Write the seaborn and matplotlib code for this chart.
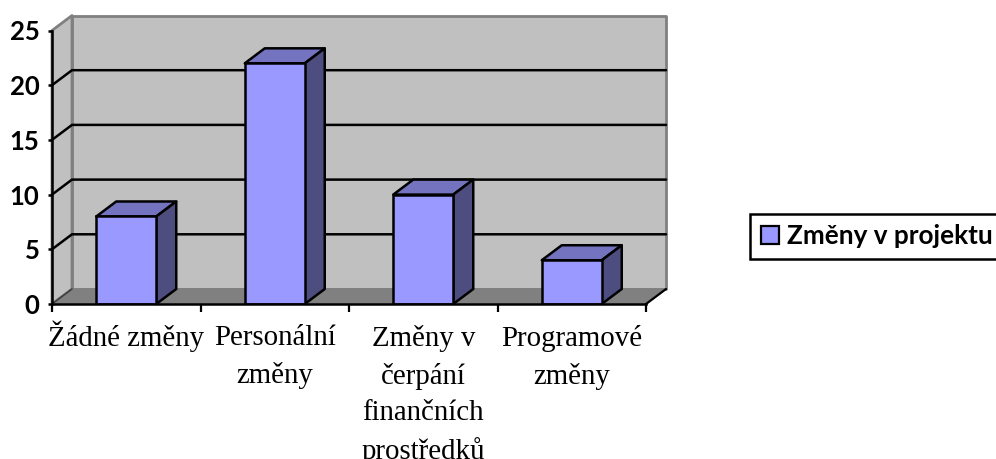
import matplotlib
matplotlib.use("Agg")
import matplotlib.pyplot as plt
from matplotlib.patches import Polygon, Patch
from matplotlib.transforms import Affine2D
import pandas as pd
import seaborn as sns

categories = ["Žádné změny", "Personální\nzměny", "Změny v\nčerpání\nfinančních\nprostředků", "Programové\nzměny"]
values = [8, 22, 10, 4]
series_name = "Změny v projektu"
y_ticks = [0, 5, 10, 15, 20, 25]

sns.set_theme(style="white")
W, H = 996, 459
fig = plt.figure(figsize=(W / 100, H / 100), dpi=100)
L, R, T, B = 52, 646, 30.5, 304
ax = fig.add_axes([L / W, 1 - B / H, (R - L) / W, (B - T) / H])
df = pd.DataFrame({"cat": categories, "val": values})
sns.barplot(data=df, x="cat", y="val", color="#9999FF", saturation=1, width=0.404,
            edgecolor="black", linewidth=1.8, ax=ax, zorder=4)
ax.set_xlim(-0.5, 3.5)
ax.set_ylim(0, 25)

# depth of the pseudo-3D box, in data units
dx = 20 / ((R - L) / 4)
dy = 15 / ((B - T) / 25)
x0, x1 = -0.5, 3.5
y0, y1 = 0, 25

def poly(pts, fc, ec="none", lw=0, z=1):
    ax.add_patch(Polygon(pts, closed=True, facecolor=fc, edgecolor=ec, linewidth=lw,
                         zorder=z, clip_on=False, joinstyle="round"))

gray = "#808080"
poly([(x0 + dx, y0 + dy), (x1 + dx, y0 + dy), (x1 + dx, y1 + dy), (x0 + dx, y1 + dy)], "#C0C0C0", gray, 2.0, 0.5)
poly([(x0, y0), (x0 + dx, y0 + dy), (x0 + dx, y1 + dy), (x0, y1)], "#C0C0C0", gray, 2.0, 0.5)
poly([(x0, y0), (x1, y0), (x1 + dx, y0 + dy), (x0 + dx, y0 + dy)], gray, gray, 1.0, 0.7)

for t in y_ticks[1:-1]:
    ax.plot([x0, x0 + dx, x1 + dx], [t, t + dy, t + dy], color="black", lw=1.8,
            zorder=1, clip_on=False, solid_joinstyle="miter")
ax.plot([x1, x1 + dx], [y0, y0 + dy], color="black", lw=1.6, zorder=2, clip_on=False)
ax.plot([x0, x0 + dx], [y0, y0 + dy], color="#404040", lw=1.2, zorder=2, clip_on=False)

# depth faces derived from the bars that seaborn drew
for bar in list(ax.patches):
    if not isinstance(bar, matplotlib.patches.Rectangle):
        continue
    a, w, h = bar.get_x(), bar.get_width(), bar.get_height()
    b = a + w
    poly([(a, h), (b, h), (b + dx, h + dy), (a + dx, h + dy)], "#7373BF", "black", 1.8, 3)
    poly([(b, 0), (b + dx, dy), (b + dx, h + dy), (b, h)], "#4D4D80", "black", 1.8, 3)

for side in ("top", "right"):
    ax.spines[side].set_visible(False)
for side in ("left", "bottom"):
    ax.spines[side].set_visible(True)
    ax.spines[side].set_color("black")
    ax.spines[side].set_linewidth(1.8)
    ax.spines[side].set_zorder(5)
ax.patch.set_alpha(0)

ax.set_xlabel("")
ax.set_ylabel("")
ax.set_yticks(y_ticks)
ax.set_yticklabels([str(t) for t in y_ticks], family="Lato", fontweight="bold", fontsize=18.5, color="black")
ax.tick_params(axis="y", left=True, length=3, width=1.8, color="black", pad=6)
ax.set_xticks(range(len(categories)))
ax.set_xticklabels(categories, family="Liberation Serif", fontsize=20.8, color="black", linespacing=1.5)
ax.set_xticks([-0.5, 0.5, 1.5, 2.5, 3.5], minor=True)
ax.tick_params(axis="x", which="major", bottom=False, length=0, pad=15.3)
ax.tick_params(axis="x", which="minor", bottom=True, length=6, width=1.6, color="black")
# the caron on the first label makes its line box taller; keep the baselines level
first = ax.get_xticklabels()[0]
first.set_transform(first.get_transform() + Affine2D().translate(0, 5))

leg = fig.legend(handles=[Patch(facecolor="#9999FF", edgecolor="black", linewidth=1.6)],
                 labels=[series_name], loc="center left",
                 bbox_to_anchor=(750 / W, 1 - 236.5 / H), bbox_transform=fig.transFigure,
                 fancybox=False, framealpha=1, edgecolor="black",
                 prop={"family": "Lato", "weight": "bold", "size": 18.8},
                 labelcolor="black",
                 handlelength=0.69, handleheight=0.69, handletextpad=0.3,
                 borderpad=0.42, borderaxespad=0)
leg.get_frame().set_linewidth(1.8)

fig.savefig("out.png", dpi=100, facecolor="white")
